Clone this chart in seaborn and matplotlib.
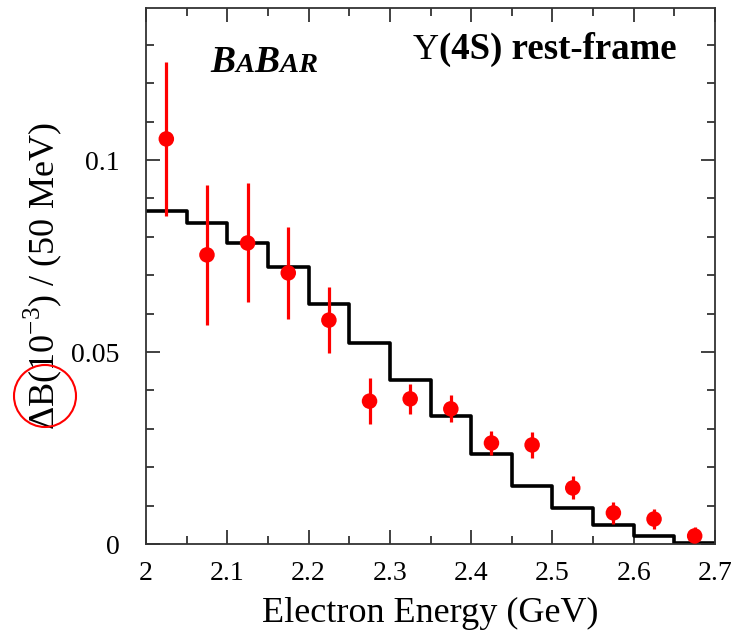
import numpy as np
import matplotlib
matplotlib.use("Agg")
import matplotlib.pyplot as plt
import seaborn as sns
from matplotlib.patches import Ellipse
from matplotlib.ticker import MultipleLocator

# ---- data ----
point_x = [2.025, 2.075, 2.125, 2.175, 2.225, 2.275, 2.325, 2.375, 2.425, 2.475, 2.525, 2.575, 2.625, 2.675]
point_y = [0.1055, 0.0753, 0.0784, 0.0706, 0.0583, 0.0372, 0.0378, 0.0352, 0.0263, 0.0258, 0.0146, 0.0081, 0.0065, 0.0021]
point_err = [0.0200, 0.0183, 0.0155, 0.0120, 0.0086, 0.0060, 0.0040, 0.0035, 0.0031, 0.0033, 0.0030, 0.0028, 0.0027, 0.0022]

bin_edges = [2.00, 2.05, 2.10, 2.15, 2.20, 2.25, 2.30, 2.35, 2.40, 2.45, 2.50, 2.55, 2.60, 2.65, 2.70]
bin_levels = [0.0866, 0.0835, 0.0785, 0.0722, 0.0625, 0.0523, 0.0426, 0.0334, 0.0234, 0.0150, 0.0095, 0.0049, 0.0021, 0.0003]

x_ticks = [2.0, 2.1, 2.2, 2.3, 2.4, 2.5, 2.6, 2.7]
x_ticklabels = ["2", "2.1", "2.2", "2.3", "2.4", "2.5", "2.6", "2.7"]
y_ticks = [0.0, 0.05, 0.1]
y_ticklabels = ["0", "0.05", "0.1"]

sns.set_theme(style="ticks")
plt.rcParams['font.family'] = ['Liberation Serif', 'DejaVu Serif']
plt.rcParams['mathtext.fontset'] = 'custom'
plt.rcParams['mathtext.rm'] = 'Liberation Serif'
for k in ['text.color', 'axes.labelcolor', 'xtick.labelcolor', 'ytick.labelcolor']:
    plt.rcParams[k] = 'black'

W, H = 735, 630
fig = plt.figure(figsize=(W / 100, H / 100), dpi=100)
ax = fig.add_axes([146 / W, 86 / H, 569 / W, 536 / H])

# histogram (step line)
step_y = bin_levels + [bin_levels[-1]]
sns.lineplot(x=bin_edges, y=step_y, ax=ax, drawstyle='steps-post', color='black',
             linewidth=2.6, sort=False, estimator=None)

# data points with error bars
ax.errorbar(point_x, point_y, yerr=point_err, fmt='none', ecolor='#ff0000', elinewidth=2.3, capsize=0)
sns.scatterplot(x=point_x, y=point_y, ax=ax, color='#ff0000', s=125, edgecolor='none', zorder=5)

ax.set_xlim(2.0, 2.7)
ax.set_ylim(0.0, 0.1396)
ax.set_xticks(x_ticks)
ax.set_xticklabels(x_ticklabels)
ax.set_yticks(y_ticks)
ax.set_yticklabels(y_ticklabels)
ax.xaxis.set_minor_locator(MultipleLocator(0.05))
ax.yaxis.set_minor_locator(MultipleLocator(0.01))

ax.tick_params(which='both', direction='in', top=True, right=True, color='#333333', width=1.3)
ax.tick_params(which='major', length=10)
ax.tick_params(which='minor', length=5.5)
ax.tick_params(axis='x', which='major', labelsize=20, pad=12, labelcolor='black')
ax.tick_params(axis='y', which='major', labelsize=20, pad=19, labelcolor='black')

for sp in ax.spines.values():
    sp.set_color('#333333')
    sp.set_linewidth(1.3)
    sp.set_visible(True)

ax.set_xlabel("Electron Energy (GeV)", fontsize=26, labelpad=8, color='black')
ax.set_ylabel("\u0394B(10$^{-3}$) / (50 MeV)", fontsize=26, color='black')
ax.yaxis.set_label_coords(-82 / 569, 0.5)

# annotation circle around Delta B
circ = Ellipse((45 / W, (H - 396) / H), 62 / W, 62 / H, transform=fig.transFigure,
               fill=False, edgecolor='#ff0000', linewidth=1.5)
fig.patches.append(circ)

# text pieces placed sequentially on a baseline
def place_pieces(pieces, x0, base_y):
    fig.canvas.draw()
    r = fig.canvas.get_renderer()
    x = x0
    for s, size, kw in pieces:
        t = fig.text(x / W, (H - base_y) / H, s, fontsize=size, va='baseline', ha='left',
                     color='black', **kw)
        bb = t.get_window_extent(renderer=r)
        x += bb.width

place_pieces([
    ("B", 27, dict(fontweight='bold', fontstyle='italic')),
    ("A", 20.5, dict(fontweight='bold', fontstyle='italic')),
    ("B", 27, dict(fontweight='bold', fontstyle='italic')),
    ("A", 20.5, dict(fontweight='bold', fontstyle='italic')),
    ("R", 20.5, dict(fontweight='bold', fontstyle='italic')),
], 210, 72)

place_pieces([
    ("\u03a5", 26, dict(fontweight='normal')),
    ("(4S) rest-frame", 26.5, dict(fontweight='bold')),
], 413, 59)

fig.savefig("out.png", dpi=100)
